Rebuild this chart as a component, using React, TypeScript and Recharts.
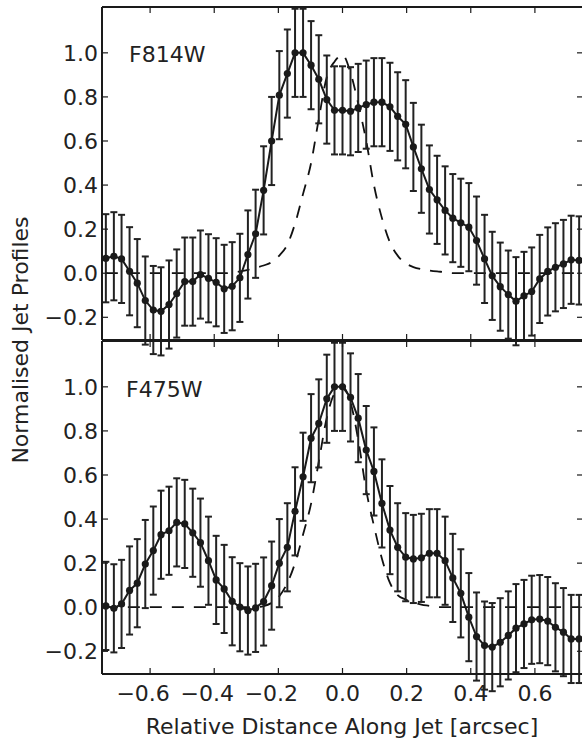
import React from 'react';
import { ComposedChart, Line, XAxis, YAxis, ErrorBar } from 'recharts';

// Relative distance along jet [arcsec] for each sample
const xPositions = [
  -0.738, -0.713, -0.689, -0.664, -0.640, -0.615, -0.590, -0.566, -0.541, -0.517,
  -0.492, -0.467, -0.443, -0.418, -0.394, -0.369, -0.344, -0.320, -0.295, -0.271,
  -0.246, -0.221, -0.197, -0.172, -0.148, -0.123, -0.098, -0.074, -0.049, -0.025,
  0.0,
  0.025, 0.049, 0.074, 0.098, 0.123, 0.148, 0.172, 0.197, 0.221, 0.246,
  0.271, 0.295, 0.320, 0.344, 0.369, 0.394, 0.418, 0.443, 0.467, 0.492,
  0.517, 0.541, 0.566, 0.590, 0.615, 0.640, 0.664, 0.689, 0.713, 0.738,
];

const f814wProfile = [
  0.068, 0.077, 0.065, 0.009, -0.045, -0.124, -0.167, -0.173, -0.142, -0.092,
  -0.038, -0.038, -0.006, -0.023, -0.041, -0.071, -0.059, -0.021, 0.085, 0.179,
  0.376, 0.600, 0.808, 0.906, 1.000, 1.000, 0.944, 0.880, 0.788, 0.739,
  0.739,
  0.735, 0.750, 0.765, 0.776, 0.776, 0.755, 0.712, 0.676, 0.573, 0.474,
  0.380, 0.333, 0.285, 0.250, 0.229, 0.209, 0.148, 0.065, -0.012, -0.061,
  -0.097, -0.127, -0.103, -0.083, -0.026, 0.008, 0.027, 0.042, 0.061, 0.058,
];

const f814wPsf = [
  0, 0, 0, 0, 0, 0, 0, 0, 0, 0,
  0, 0, 0, 0, 0, 0, 0.003, 0.008, 0.015, 0.025,
  0.035, 0.05, 0.08, 0.13, 0.225, 0.36, 0.5, 0.7, 0.89, 0.96,
  0.99,
  0.91, 0.77, 0.6, 0.4, 0.25, 0.14, 0.08, 0.045, 0.028, 0.018,
  0.012, 0.008, 0.005, 0, 0, 0, 0, 0, 0, 0,
  0, 0, 0, 0, 0, 0, 0, 0, 0, 0,
];

const f475wProfile = [
  0.006, -0.005, 0.015, 0.076, 0.109, 0.196, 0.257, 0.329, 0.347, 0.385,
  0.378, 0.338, 0.293, 0.211, 0.124, 0.083, 0.027, 0.000, -0.015, -0.003,
  0.026, 0.098, 0.200, 0.272, 0.435, 0.592, 0.767, 0.834, 0.946, 1.000,
  1.000,
  0.952, 0.858, 0.713, 0.616, 0.471, 0.350, 0.272, 0.227, 0.219, 0.224,
  0.245, 0.245, 0.211, 0.133, 0.063, -0.045, -0.133, -0.174, -0.181, -0.159,
  -0.128, -0.095, -0.076, -0.057, -0.054, -0.063, -0.091, -0.113, -0.144, -0.144,
];

const f475wPsf = [
  0, 0, 0, 0, 0, 0, 0, 0, 0, 0,
  0, 0, 0, 0, 0, 0, 0, 0, 0, 0,
  0.005, 0.02, 0.05, 0.11, 0.2, 0.33, 0.47, 0.66, 0.86, 0.97,
  1.0,
  0.93, 0.76, 0.53, 0.37, 0.22, 0.11, 0.055, 0.035, 0.022, 0.012,
  0.006, 0, 0, 0, 0, 0, 0, 0, 0, 0,
  0, 0, 0, 0, 0, 0, 0, 0, 0, 0,
];

const ERROR_HALF_WIDTH = 0.2;

const xTicks = [-0.6, -0.4, -0.2, 0.0, 0.2, 0.4, 0.6];
const yTicks = [-0.2, 0.0, 0.2, 0.4, 0.6, 0.8, 1.0];
const X_DOMAIN: [number, number] = [-0.75, 0.75];
const Y_DOMAIN: [number, number] = [-0.303, 1.208];

const INK = '#1a1a1a';
const FONT = '"DejaVu Sans", sans-serif';
const FS = 22;

const fmt = (v: number) => (v < 0 ? '\u2212' + Math.abs(v).toFixed(1) : v.toFixed(1));

function buildData(profile: number[], psf: number[]) {
  return xPositions.map((x, i) => ({
    x,
    profile: profile[i],
    psf: psf[i],
    err: ERROR_HALF_WIDTH,
  }));
}

const TICK_LEN = 6;

function Panel({ data, height, marginTop, marginBottom, showXLabels }: any) {
  return (
    <ComposedChart
      width={600}
      height={height}
      data={data}
      margin={{ top: marginTop, right: 7, bottom: marginBottom, left: 42 }}
    >
      <XAxis
        xAxisId="b"
        dataKey="x"
        type="number"
        domain={X_DOMAIN}
        ticks={xTicks}
        allowDataOverflow
        orientation="bottom"
        height={30}
        interval={0}
        tickSize={0}
        tickMargin={0}
        tickLine={false}
        axisLine={{ stroke: INK, strokeWidth: 2 }}
        tick={(p: any) => (
          <g>
            <line x1={p.x} x2={p.x} y1={p.y} y2={p.y - TICK_LEN} stroke={INK} strokeWidth={1.2} />
            {showXLabels && (
              <text
                x={p.x - (p.payload.value < 0 ? 7 : 0)}
                y={p.y + 27}
                textAnchor="middle"
                fontFamily={FONT}
                fontSize={FS}
                fill="#222"
              >
                {fmt(p.payload.value)}
              </text>
            )}
          </g>
        )}
      />
      <XAxis
        xAxisId="t"
        dataKey="x"
        type="number"
        domain={X_DOMAIN}
        ticks={xTicks}
        allowDataOverflow
        orientation="top"
        height={5}
        interval={0}
        tickSize={0}
        tickMargin={0}
        tickLine={false}
        axisLine={{ stroke: INK, strokeWidth: 2 }}
        tick={(p: any) => (
          <line x1={p.x} x2={p.x} y1={p.y} y2={p.y + TICK_LEN} stroke={INK} strokeWidth={1.2} />
        )}
      />
      <YAxis
        yAxisId="l"
        type="number"
        domain={Y_DOMAIN}
        ticks={yTicks}
        allowDataOverflow
        width={60}
        interval={0}
        tickSize={0}
        tickMargin={0}
        tickLine={false}
        axisLine={{ stroke: INK, strokeWidth: 2 }}
        tick={(p: any) => (
          <g>
            <line x1={p.x} x2={p.x + TICK_LEN} y1={p.y} y2={p.y} stroke={INK} strokeWidth={1.2} />
            <text
              x={p.x - 4}
              y={p.y + 8}
              textAnchor="end"
              fontFamily={FONT}
              fontSize={FS}
              fill="#222"
            >
              {fmt(p.payload.value)}
            </text>
          </g>
        )}
      />
      <YAxis
        yAxisId="r"
        orientation="right"
        type="number"
        domain={Y_DOMAIN}
        ticks={yTicks}
        allowDataOverflow
        width={10}
        interval={0}
        tickSize={0}
        tickMargin={0}
        tickLine={false}
        axisLine={false}
        tick={(p: any) => (
          <line x1={p.x - TICK_LEN} x2={p.x} y1={p.y} y2={p.y} stroke={INK} strokeWidth={1.2} />
        )}
      />
      <Line
        xAxisId="b"
        yAxisId="l"
        dataKey="psf"
        type="monotone"
        stroke="#111"
        strokeWidth={1.8}
        strokeDasharray="12 10"
        dot={false}
        isAnimationActive={false}
      />
      <Line
        xAxisId="b"
        yAxisId="l"
        dataKey="profile"
        type="linear"
        stroke={INK}
        strokeWidth={2}
        dot={{ r: 3.6, fill: INK, stroke: INK, strokeWidth: 0 }}
        isAnimationActive={false}
      >
        <ErrorBar dataKey="err" direction="y" width={3.5} strokeWidth={2} stroke="#222" />
      </Line>
    </ComposedChart>
  );
}

export default function App() {
  const topData = buildData(f814wProfile, f814wPsf);
  const bottomData = buildData(f475wProfile, f475wPsf);
  return (
    <div
      style={{
        position: 'absolute',
        left: 0,
        top: 0,
        width: 582,
        height: 741,
        overflow: 'hidden',
        background: '#fff',
      }}
    >
      <div style={{ position: 'absolute', left: 0, top: 0 }}>
        <Panel data={topData} height={380} marginTop={2} marginBottom={10} showXLabels={false} />
      </div>
      <div style={{ position: 'absolute', left: 0, top: 0 }}>
        <Panel data={bottomData} height={741} marginTop={336} marginBottom={37} showXLabels={true} />
      </div>
      <svg
        width={582}
        height={741}
        style={{ position: 'absolute', left: 0, top: 0, pointerEvents: 'none' }}
      >
        <text x={129} y={62} fontFamily={FONT} fontSize={FS} fill="#222">F814W</text>
        <text x={126} y={397} fontFamily={FONT} fontSize={FS} fill="#222">F475W</text>
        <text
          transform="translate(28,340) rotate(-90)"
          textAnchor="middle"
          fontFamily={FONT}
          fontSize={FS}
          fill="#222"
        >
          Normalised Jet Profiles
        </text>
        <text x={342} y={734} textAnchor="middle" fontFamily={FONT} fontSize={FS} fill="#222">
          Relative Distance Along Jet [arcsec]
        </text>
      </svg>
    </div>
  );
}
